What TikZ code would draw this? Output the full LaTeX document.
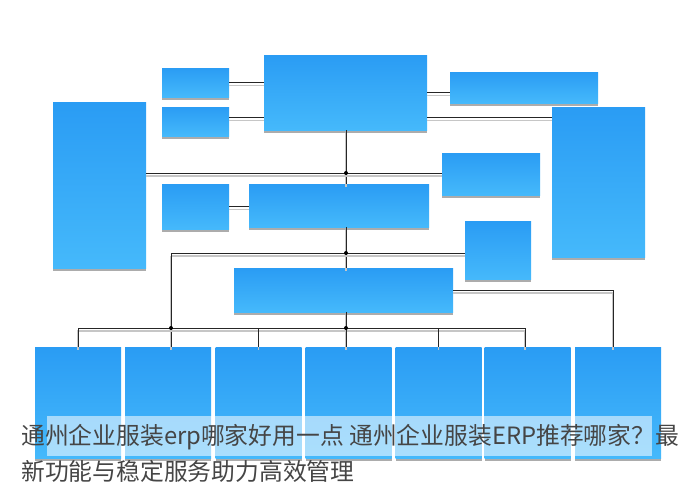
\documentclass[tikz,border=0pt]{standalone}
\usepackage{fontspec}
\newfontfamily\cjk{Noto Sans CJK SC}
\usepackage{xcolor}
\usepackage{tikz}
\usetikzlibrary{shapes,arrows,positioning,fit,calc,shadows}

\definecolor{boxtop}{HTML}{2A9CF4}
\definecolor{boxbot}{HTML}{45B9FB}
\definecolor{capgray}{HTML}{454545}

\begin{document}
\begin{tikzpicture}[
    x=1pt, y=-1pt,
    box/.style = {rectangle, inner sep=0pt, top color=boxtop, bottom color=boxbot,
      drop shadow={shadow xshift=0pt, shadow yshift=-3pt, fill=gray!65, opacity=1}},
    wire/.style = {draw=black!85, line width=0.8pt,
      preaction={draw=gray!45, line width=1.2pt, transform canvas={yshift=-3pt}}},
    dot/.style = {circle, fill=black, inner sep=0pt, minimum size=4pt}
  ]
  \useasboundingbox (0,0) rectangle (700,488);

  % upper boxes
  \node[box, minimum width=93pt, minimum height=166pt] (left) at (99.5,185) {};
  \node[box, minimum width=67pt, minimum height=29pt] (s1) at (195.5,82.5) {};
  \node[box, minimum width=67pt, minimum height=29pt] (s2) at (195.5,121.5) {};
  \node[box, minimum width=163pt, minimum height=75pt] (top) at (345.5,92.5) {};
  \node[box, minimum width=148pt, minimum height=31pt] (tr) at (524,87.5) {};
  \node[box, minimum width=93pt, minimum height=150pt] (rt) at (598.5,182) {};
  \node[box, minimum width=98pt, minimum height=42pt] (mr) at (491,174) {};
  \node[box, minimum width=67pt, minimum height=45pt] (ml) at (195.5,206.5) {};
  \node[box, minimum width=180pt, minimum height=43pt] (mid) at (339,205.5) {};
  \node[box, minimum width=66pt, minimum height=58pt] (sr) at (498,250) {};
  \node[box, minimum width=219pt, minimum height=44pt] (low) at (343.5,290) {};

  % bottom row
  \foreach \i/\x in {1/78, 2/168, 3/258.5, 4/348.5, 5/438.5, 6/527.5, 7/618}
    \node[box, minimum width=86pt, minimum height=111pt] (b\i) at (\x,402.5) {};

  % junctions
  \coordinate (j1) at (346,173);
  \coordinate (j2) at (346,253);
  \coordinate (k) at (171,253);
  \coordinate (bus) at (346,328);

  % connectors
  \draw[wire] (s1.east) -- (s1.east -| top.west);
  \draw[wire] ([yshift=4pt]s2.east) -- ([yshift=4pt]s2.east -| top.west);
  \draw[wire] (top.east) -- (top.east -| tr.west);
  \draw[wire] ([yshift=-25pt]top.east) -- ([yshift=-25pt]top.east -| rt.west);
  \draw[wire] (j1 |- top.south) -- (j1 |- mid.north);
  \draw[wire] (j1 -| left.east) -- (j1 -| mr.west);
  \draw[wire] (ml.east) -- (ml.east -| mid.west);
  \draw[wire] (j1 |- mid.south) -- (j1 |- low.north);
  \draw[wire] (k) -- (j2 -| sr.west);
  \draw[wire] (k) -- (k |- b2.north);
  \draw[wire] (low.east) -| ([xshift=-5pt]b7.north);
  \draw[wire] (b1.north) -- (b1.north |- bus) -- ([xshift=-2.5pt]b6.north |- bus) -- ([xshift=-2.5pt]b6.north);
  \draw[wire] (b3.north |- bus) -- (b3.north);
  \draw[wire] (j2 |- low.south) -- (j2 |- b4.north);
  \draw[wire] (b5.north |- bus) -- (b5.north);

  \foreach \p in {j1, j2, bus}
    \node[dot] at (\p) {};
  \node[dot] at (k |- bus) {};

  % caption band
  \fill[white, opacity=0.55] (47,416) rectangle (652,456);
  \node[anchor=west, inner sep=0pt, text=capgray, font=\cjk\fontsize{23.8}{28}\selectfont] (cap1) at (21,437)
    {通州企业服装erp哪家好用一点 通州企业服装ERP推荐哪家？最};
  \node[anchor=west, inner sep=0pt, text=capgray, font=\cjk\fontsize{23.8}{28}\selectfont] (cap2) at (21,471)
    {新功能与稳定服务助力高效管理};
\end{tikzpicture}
\end{document}
